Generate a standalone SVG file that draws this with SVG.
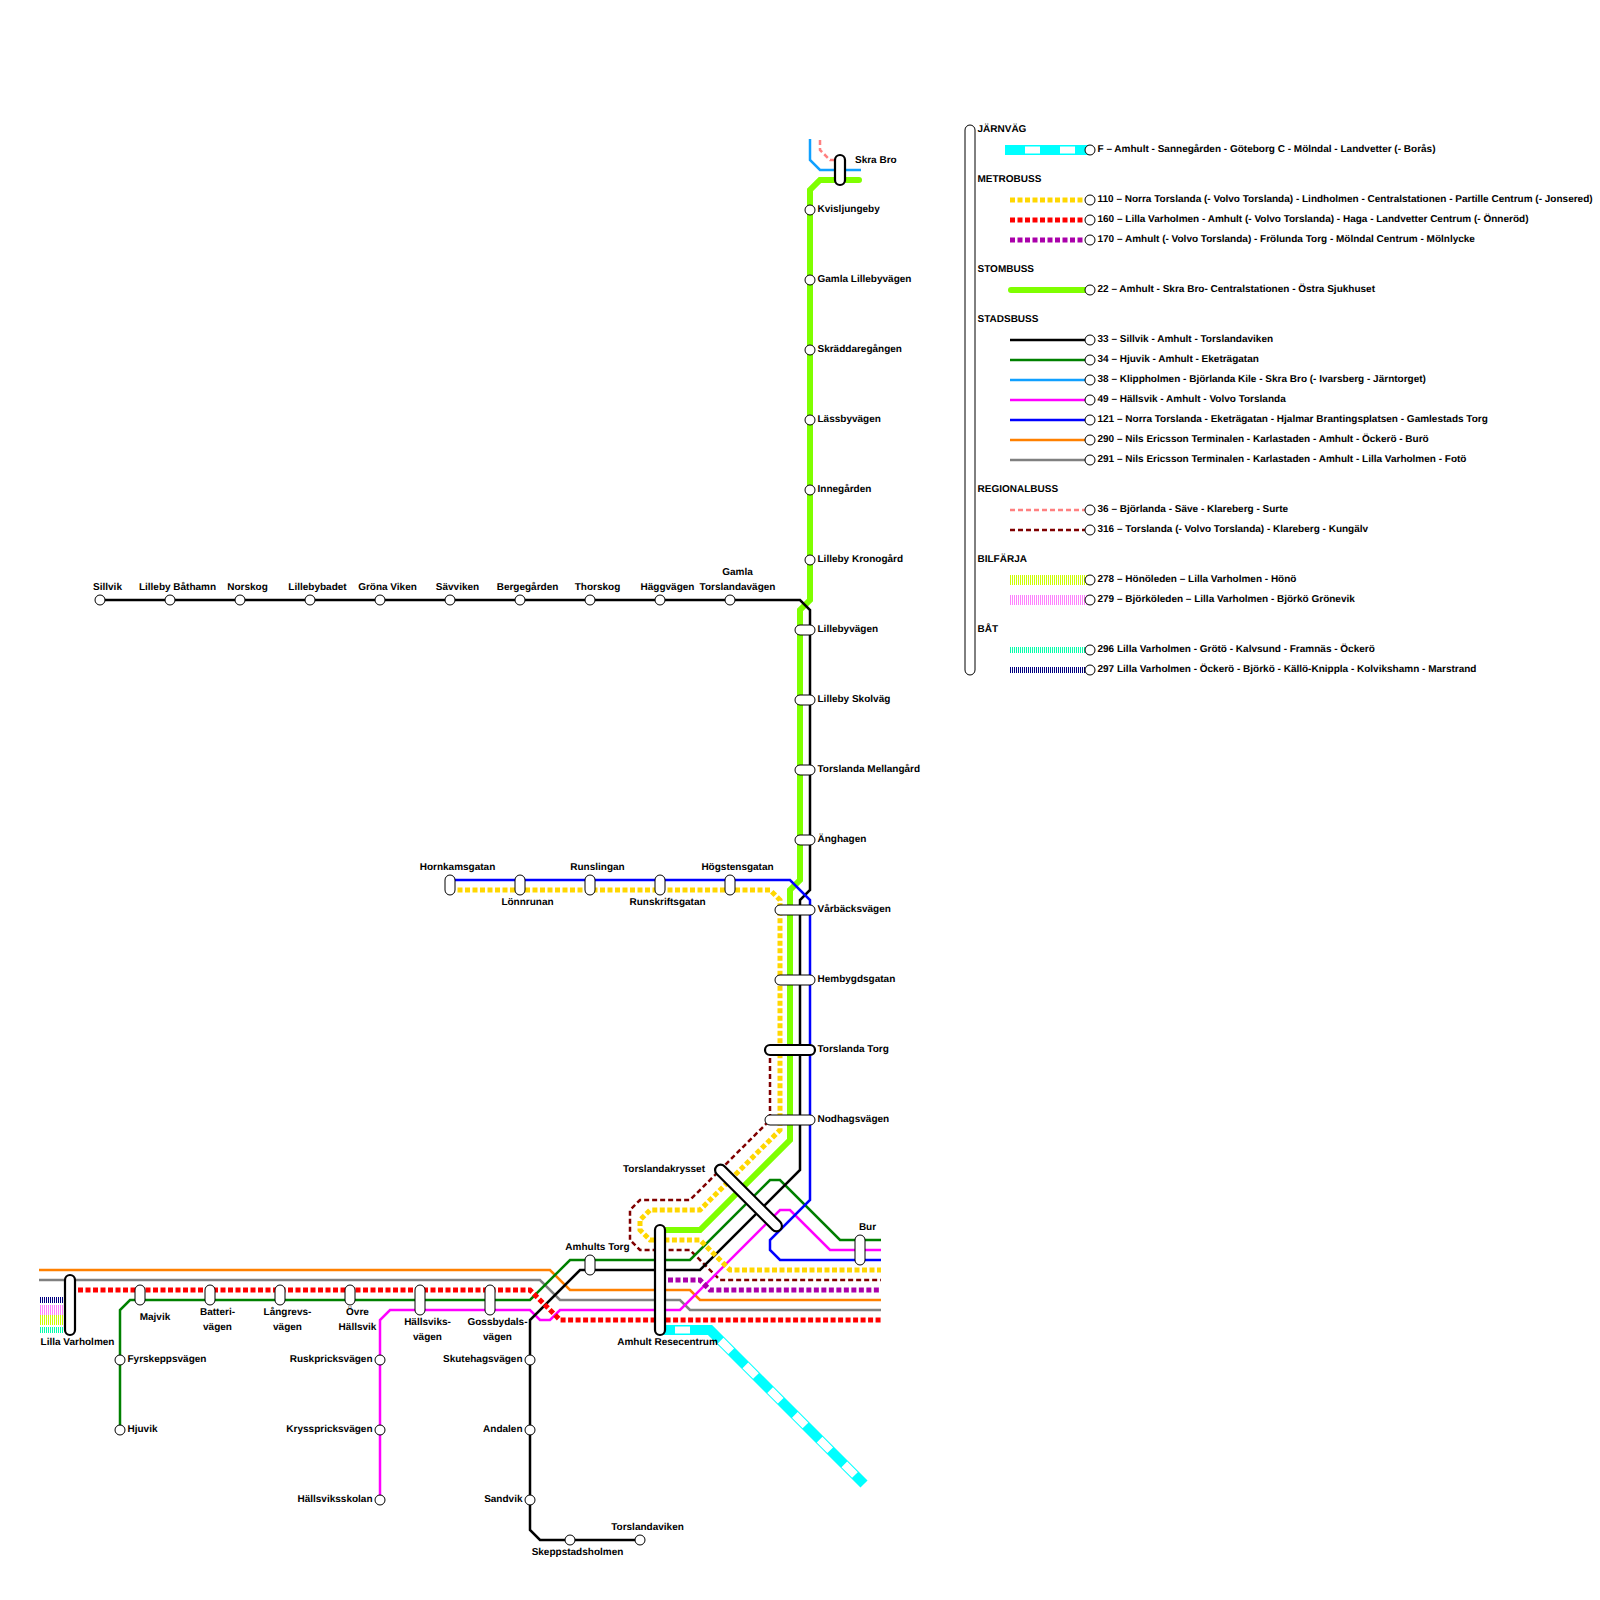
<svg xmlns="http://www.w3.org/2000/svg" width="1600" height="1600" viewBox="0 0 1600 1600">
<style>
text{font-family:"Liberation Sans",Arial,sans-serif;font-size:10px;font-weight:bold;fill:#000;text-rendering:geometricPrecision;transform:translateY(-.5px)}
.m{text-anchor:middle}.e{text-anchor:end}
.st{fill:#fff;stroke:#000;stroke-width:1}
.hub{fill:#fff;stroke:#000;stroke-width:2.2}
path,line{fill:none;stroke-linejoin:miter}
.l{stroke-width:2.5}
.f{stroke:#0ff;stroke-width:10}
.fw{stroke:#fff;stroke-width:7}
.fd{stroke:#fff;stroke-width:8;stroke-dasharray:15 20;stroke-dashoffset:-15}
.lime{stroke:#7fff00;stroke-width:6;stroke-linecap:round}
.metro{stroke-width:5;stroke-dasharray:5 2.5}
.dash{stroke-width:2.5;stroke-dasharray:5 3}
.y{stroke:#ffd700}.r{stroke:#f00}.p{stroke:#a0a}
.k{stroke:#000}.g{stroke:#008000}.b38{stroke:#10a0ff}.mg{stroke:#f0f}.b{stroke:#00f}.o{stroke:#ff8000}.gr{stroke:#808080}
.sa{stroke:#ff8080}.dr{stroke:#800000}
.h{stroke-dasharray:1 1}
.h1{stroke:#cf0;stroke-width:10}.h2{stroke:#ff80ff;stroke-width:10}.h3{stroke:#0fa;stroke-width:6}.h4{stroke:#000080;stroke-width:6}
</style>
<g id="connectors">
<path class="h h4" d="M40,1300H64"/>
<path class="h h2" d="M40,1310H64"/>
<path class="h h1" d="M40,1320H64"/>
<path class="h h3" d="M40,1330H64"/>
<path class="f" d="M660,1330H710L864,1484"/>
<path class="fw" d="M675,1330H690"/>
<path class="fd" d="M710,1330L864,1484"/>
<path class="lime" d="M859,180H820L810,190V600L800,610V880L790,890V1140L700,1230H660"/>
<path class="l gr" d="M39,1280H540L560,1300H680L690,1310H881"/>
<path class="l o" d="M39,1270H550L570,1290H690L700,1300H881"/>
<path class="l sa dash" d="M820,140V150L830,160H836"/>
<path class="l dr dash" d="M770,1050V1120L690,1200H640L630,1210V1240L640,1250H690L720,1280H881"/>
<path class="l b38" d="M810,139V160L820,170H861"/>
<path class="l mg" d="M380,1500V1320L390,1310H530L540,1320H550L560,1310H680L780,1210H790L830,1250H881"/>
<path class="l g" d="M120,1430V1310L130,1300H530L570,1260H690L770,1180H780L840,1240H881"/>
<path class="l k" d="M100,600H800L810,610V890L800,900V1170L700,1270H580L530,1320V1530L540,1540H640"/>
<path class="l b" d="M450,880H790L810,900V1200L770,1240V1250L780,1260H881"/>
<path class="metro y" d="M450,890H770L780,900V1130L700,1210H650L640,1220V1230L650,1240H700L730,1270H881"/>
<path class="metro p" d="M668,1280H700L710,1290H881"/>
<path class="metro r" d="M78,1290H530L560,1320H881"/>
</g>
<g id="n-sillvik"><circle class="st" cx="100" cy="600" r="5"/><text class="m" x="107.500" y="590">Sillvik</text></g>
<g id="n-lilleby-bathamn"><circle class="st" cx="170" cy="600" r="5"/><text class="m" x="177.500" y="590">Lilleby Båthamn</text></g>
<g id="n-norskog"><circle class="st" cx="240" cy="600" r="5"/><text class="m" x="247.500" y="590">Norskog</text></g>
<g id="n-lillebybadet"><circle class="st" cx="310" cy="600" r="5"/><text class="m" x="317.500" y="590">Lillebybadet</text></g>
<g id="n-grona-viken"><circle class="st" cx="380" cy="600" r="5"/><text class="m" x="387.500" y="590">Gröna Viken</text></g>
<g id="n-savviken"><circle class="st" cx="450" cy="600" r="5"/><text class="m" x="457.500" y="590">Sävviken</text></g>
<g id="n-bergegarden"><circle class="st" cx="520" cy="600" r="5"/><text class="m" x="527.500" y="590">Bergegården</text></g>
<g id="n-thorskog"><circle class="st" cx="590" cy="600" r="5"/><text class="m" x="597.500" y="590">Thorskog</text></g>
<g id="n-haggvagen"><circle class="st" cx="660" cy="600" r="5"/><text class="m" x="667.500" y="590">Häggvägen</text></g>
<g id="n-gamla-torslandavagen"><circle class="st" cx="730" cy="600" r="5"/><text class="m" x="737.500" y="575">Gamla</text><text class="m" x="737.500" y="590">Torslandavägen</text></g>
<g id="n-skra-bro"><rect class="hub" x="835" y="155" width="10" height="30" rx="5"/><text x="855" y="163">Skra Bro</text></g>
<g id="n-kvisljungeby"><circle class="st" cx="810" cy="210" r="5"/><text x="817.500" y="212.500">Kvisljungeby</text></g>
<g id="n-gamla-lillebyvagen"><circle class="st" cx="810" cy="280" r="5"/><text x="817.500" y="282.500">Gamla Lillebyvägen</text></g>
<g id="n-skraddaregangen"><circle class="st" cx="810" cy="350" r="5"/><text x="817.500" y="352.500">Skräddaregången</text></g>
<g id="n-lassbyvagen"><circle class="st" cx="810" cy="420" r="5"/><text x="817.500" y="422.500">Lässbyvägen</text></g>
<g id="n-innegarden"><circle class="st" cx="810" cy="490" r="5"/><text x="817.500" y="492.500">Innegården</text></g>
<g id="n-lilleby-kronogard"><circle class="st" cx="810" cy="560" r="5"/><text x="817.500" y="562.500">Lilleby Kronogård</text></g>
<g id="n-lillebyvagen"><rect class="st" x="795" y="625" width="20" height="10" rx="5"/><text x="817.500" y="632.500">Lillebyvägen</text></g>
<g id="n-lilleby-skolvag"><rect class="st" x="795" y="695" width="20" height="10" rx="5"/><text x="817.500" y="702.500">Lilleby Skolväg</text></g>
<g id="n-torslanda-mellangard"><rect class="st" x="795" y="765" width="20" height="10" rx="5"/><text x="817.500" y="772.500">Torslanda Mellangård</text></g>
<g id="n-anghagen"><rect class="st" x="795" y="835" width="20" height="10" rx="5"/><text x="817.500" y="842.500">Änghagen</text></g>
<g id="n-varbacksvagen"><rect class="st" x="775" y="905" width="40" height="10" rx="5"/><text x="817.500" y="912.500">Vårbäcksvägen</text></g>
<g id="n-hembygdsgatan"><rect class="st" x="775" y="975" width="40" height="10" rx="5"/><text x="817.500" y="982.500">Hembygdsgatan</text></g>
<g id="n-torslanda-torg"><rect class="hub" x="765" y="1045" width="50" height="10" rx="5"/><text x="817.500" y="1052.500">Torslanda Torg</text></g>
<g id="n-nodhagsvagen"><rect class="st" x="765" y="1115" width="50" height="10" rx="5"/><text x="817.500" y="1122.500">Nodhagsvägen</text></g>
<g id="n-hornkamsgatan"><rect class="st" x="445" y="875" width="10" height="20" rx="5"/><text class="m" x="457.500" y="870">Hornkamsgatan</text></g>
<g id="n-lonnrunan"><rect class="st" x="515" y="875" width="10" height="20" rx="5"/><text class="m" x="527.500" y="905.500">Lönnrunan</text></g>
<g id="n-runslingan"><rect class="st" x="585" y="875" width="10" height="20" rx="5"/><text class="m" x="597.500" y="870">Runslingan</text></g>
<g id="n-runskriftsgatan"><rect class="st" x="655" y="875" width="10" height="20" rx="5"/><text class="m" x="667.500" y="905.500">Runskriftsgatan</text></g>
<g id="n-hogstensgatan"><rect class="st" x="725" y="875" width="10" height="20" rx="5"/><text class="m" x="737.500" y="870">Högstensgatan</text></g>
<g id="n-torslandakrysset"><rect class="hub" x="703.500" y="1192.500" width="90" height="11" rx="5.500" transform="rotate(45 748.500 1198)"/><text class="e" x="705" y="1172">Torslandakrysset</text></g>
<g id="n-bur"><rect class="st" x="855" y="1235" width="10" height="30" rx="5"/><text class="m" x="867.500" y="1230">Bur</text></g>
<g id="n-amhults-torg"><rect class="st" x="585" y="1255" width="10" height="20" rx="5"/><text class="m" x="597.500" y="1250">Amhults Torg</text></g>
<g id="n-amhult-resecentrum"><rect class="hub" x="655" y="1225" width="10" height="110" rx="5"/><text class="m" x="667.500" y="1345">Amhult Resecentrum</text></g>
<g id="n-lilla-varholmen"><rect class="hub" x="65" y="1275" width="10" height="60" rx="5"/><text class="m" x="77.500" y="1345">Lilla Varholmen</text></g>
<g id="n-majvik"><rect class="st" x="135" y="1285" width="10" height="20" rx="5"/><text class="m" x="155" y="1320">Majvik</text></g>
<g id="n-batterivagen"><rect class="st" x="205" y="1285" width="10" height="20" rx="5"/><text class="m" x="217.500" y="1315">Batteri-</text><text class="m" x="217.500" y="1330">vägen</text></g>
<g id="n-langrevsvagen"><rect class="st" x="275" y="1285" width="10" height="20" rx="5"/><text class="m" x="287.500" y="1315">Långrevs-</text><text class="m" x="287.500" y="1330">vägen</text></g>
<g id="n-ovre-hallsvik"><rect class="st" x="345" y="1285" width="10" height="20" rx="5"/><text class="m" x="357.500" y="1315">Övre</text><text class="m" x="357.500" y="1330">Hällsvik</text></g>
<g id="n-hallsviksvagen"><rect class="st" x="415" y="1285" width="10" height="30" rx="5"/><text class="m" x="427.500" y="1325.500">Hällsviks-</text><text class="m" x="427.500" y="1340.500">vägen</text></g>
<g id="n-gossbydalsvagen"><rect class="st" x="485" y="1285" width="10" height="30" rx="5"/><text class="m" x="497.500" y="1325.500">Gossbydals-</text><text class="m" x="497.500" y="1340.500">vägen</text></g>
<g id="n-fyrskeppsvagen"><circle class="st" cx="120" cy="1360" r="5"/><text x="127.500" y="1362.500">Fyrskeppsvägen</text></g>
<g id="n-hjuvik"><circle class="st" cx="120" cy="1430" r="5"/><text x="127.500" y="1432.500">Hjuvik</text></g>
<g id="n-ruskpricksvagen"><circle class="st" cx="380" cy="1360" r="5"/><text class="e" x="372.500" y="1362.500">Ruskpricksvägen</text></g>
<g id="n-krysspricksvagen"><circle class="st" cx="380" cy="1430" r="5"/><text class="e" x="372.500" y="1432.500">Krysspricksvägen</text></g>
<g id="n-hallsviksskolan"><circle class="st" cx="380" cy="1500" r="5"/><text class="e" x="372.500" y="1502.500">Hällsviksskolan</text></g>
<g id="n-skutehagsvagen"><circle class="st" cx="530" cy="1360" r="5"/><text class="e" x="522.500" y="1362.500">Skutehagsvägen</text></g>
<g id="n-andalen"><circle class="st" cx="530" cy="1430" r="5"/><text class="e" x="522.500" y="1432.500">Andalen</text></g>
<g id="n-sandvik"><circle class="st" cx="530" cy="1500" r="5"/><text class="e" x="522.500" y="1502.500">Sandvik</text></g>
<g id="n-skeppstadsholmen"><circle class="st" cx="570" cy="1540" r="5"/><text class="m" x="577.500" y="1555">Skeppstadsholmen</text></g>
<g id="n-torslandaviken"><circle class="st" cx="640" cy="1540" r="5"/><text class="m" x="647.500" y="1530">Torslandaviken</text></g>
<g id="legend">
<rect class="st" x="965" y="125" width="10" height="550" rx="5"/>
<text x="977.500" y="132.500">JÄRNVÄG</text>
<text x="977.500" y="182.500">METROBUSS</text>
<text x="977.500" y="272.500">STOMBUSS</text>
<text x="977.500" y="322.500">STADSBUSS</text>
<text x="977.500" y="492.500">REGIONALBUSS</text>
<text x="977.500" y="562.500">BILFÄRJA</text>
<text x="977.500" y="632.500">BÅT</text>
<path class="f" d="M1005,150H1090"/><path class="fw" d="M1025,150H1040M1060,150H1075"/>
<circle class="st" cx="1090" cy="150" r="5"/><text x="1097.500" y="152.500">F – Amhult - Sannegården - Göteborg C - Mölndal - Landvetter (- Borås)</text>
<path class="metro y" d="M1010,200H1085"/><circle class="st" cx="1090" cy="200" r="5"/><text x="1097.500" y="202.500">110 – Norra Torslanda (- Volvo Torslanda) - Lindholmen - Centralstationen - Partille Centrum (- Jonsered)</text>
<path class="metro r" d="M1010,220H1085"/><circle class="st" cx="1090" cy="220" r="5"/><text x="1097.500" y="222.500">160 – Lilla Varholmen - Amhult (- Volvo Torslanda) - Haga - Landvetter Centrum (- Önneröd)</text>
<path class="metro p" d="M1010,240H1085"/><circle class="st" cx="1090" cy="240" r="5"/><text x="1097.500" y="242.500">170 – Amhult (- Volvo Torslanda) - Frölunda Torg - Mölndal Centrum - Mölnlycke</text>
<path class="lime" d="M1011,290H1090"/><circle class="st" cx="1090" cy="290" r="5"/><text x="1097.500" y="292.500">22 – Amhult - Skra Bro- Centralstationen - Östra Sjukhuset</text>
<path class="l k" d="M1010,340H1090"/><circle class="st" cx="1090" cy="340" r="5"/><text x="1097.500" y="342.500">33 – Sillvik - Amhult - Torslandaviken</text>
<path class="l g" d="M1010,360H1090"/><circle class="st" cx="1090" cy="360" r="5"/><text x="1097.500" y="362.500">34 – Hjuvik - Amhult - Eketrägatan</text>
<path class="l b38" d="M1010,380H1090"/><circle class="st" cx="1090" cy="380" r="5"/><text x="1097.500" y="382.500">38 – Klippholmen - Björlanda Kile - Skra Bro (- Ivarsberg - Järntorget)</text>
<path class="l mg" d="M1010,400H1090"/><circle class="st" cx="1090" cy="400" r="5"/><text x="1097.500" y="402.500">49 – Hällsvik - Amhult - Volvo Torslanda</text>
<path class="l b" d="M1010,420H1090"/><circle class="st" cx="1090" cy="420" r="5"/><text x="1097.500" y="422.500">121 – Norra Torslanda - Eketrägatan - Hjalmar Brantingsplatsen - Gamlestads Torg</text>
<path class="l o" d="M1010,440H1090"/><circle class="st" cx="1090" cy="440" r="5"/><text x="1097.500" y="442.500">290 – Nils Ericsson Terminalen - Karlastaden - Amhult - Öckerö - Burö</text>
<path class="l gr" d="M1010,460H1090"/><circle class="st" cx="1090" cy="460" r="5"/><text x="1097.500" y="462.500">291 – Nils Ericsson Terminalen - Karlastaden - Amhult - Lilla Varholmen - Fotö</text>
<path class="l sa dash" d="M1010,510H1085"/><circle class="st" cx="1090" cy="510" r="5"/><text x="1097.500" y="512.500">36 – Björlanda - Säve - Klareberg - Surte</text>
<path class="l dr dash" d="M1010,530H1085"/><circle class="st" cx="1090" cy="530" r="5"/><text x="1097.500" y="532.500">316 – Torslanda (- Volvo Torslanda) - Klareberg - Kungälv</text>
<path class="h h1" d="M1010,580H1090"/><circle class="st" cx="1090" cy="580" r="5"/><text x="1097.500" y="582.500">278 – Hönöleden – Lilla Varholmen - Hönö</text>
<path class="h h2" d="M1010,600H1090"/><circle class="st" cx="1090" cy="600" r="5"/><text x="1097.500" y="602.500">279 – Björköleden – Lilla Varholmen - Björkö Grönevik</text>
<path class="h h3" d="M1010,650H1090"/><circle class="st" cx="1090" cy="650" r="5"/><text x="1097.500" y="652.500">296 Lilla Varholmen - Grötö - Kalvsund - Framnäs - Öckerö</text>
<path class="h h4" d="M1010,670H1090"/><circle class="st" cx="1090" cy="670" r="5"/><text x="1097.500" y="672.500">297 Lilla Varholmen - Öckerö - Björkö - Källö-Knippla - Kolvikshamn - Marstrand</text>
</g>
</svg>
